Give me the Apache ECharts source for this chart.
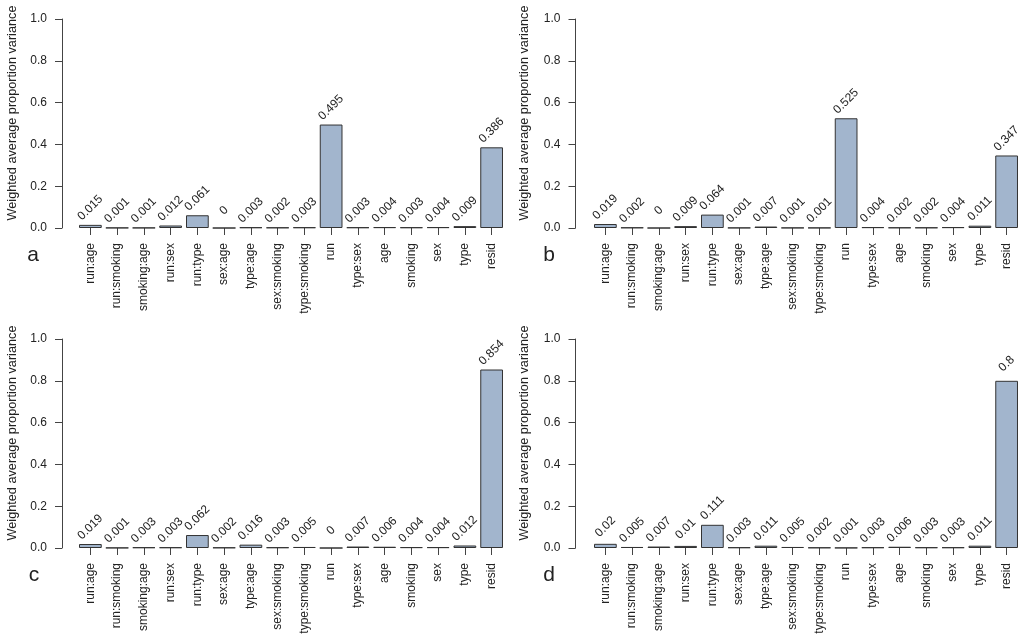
<!DOCTYPE html>
<html>
<head>
<meta charset="utf-8">
<script src="https://cdn.jsdelivr.net/npm/echarts@6/dist/echarts.min.js"></script>
<style>
html,body{margin:0;padding:0;background:#fff;}
#chart{width:1024px;height:640px;}
</style>
</head>
<body>
<div id="chart"></div>
<script>
var categories = ["run:age","run:smoking","smoking:age","run:sex","run:type","sex:age","type:age","sex:smoking","type:smoking","run","type:sex","age","smoking","sex","type","resid"];
var valuesA = [0.015,0.001,0.001,0.012,0.061,0,0.003,0.002,0.003,0.495,0.003,0.004,0.003,0.004,0.009,0.386];
var valuesB = [0.019,0.002,0,0.009,0.064,0.001,0.007,0.001,0.001,0.525,0.004,0.002,0.002,0.004,0.011,0.347];
var valuesC = [0.019,0.001,0.003,0.003,0.062,0.002,0.016,0.003,0.005,0,0.007,0.006,0.004,0.004,0.012,0.854];
var valuesD = [0.02,0.005,0.007,0.01,0.111,0.003,0.011,0.005,0.002,0.001,0.003,0.006,0.003,0.003,0.011,0.8];
var panelLetters = ["a","b","c","d"];
var yTitle = "Weighted average proportion variance";

var FONT = '"Liberation Sans", Arial, sans-serif';
var TXT = '#222';
var panels = [
  {vals: valuesA, left: 77, top: 19, off: 15, tx: 12.5, lx: 33},
  {vals: valuesB, left: 592, top: 19, off: 16.5, tx: 524.5, lx: 549},
  {vals: valuesC, left: 77, top: 339, off: 15, tx: 12.5, lx: 34},
  {vals: valuesD, left: 592, top: 339, off: 16.5, tx: 524.5, lx: 549}
];

var grids = [], xAxes = [], yAxes = [], series = [], graphics = [];
panels.forEach(function(p, i){
  grids.push({left: p.left, top: p.top, width: 428, height: 209});
  xAxes.push({
    type: 'category', gridIndex: i, data: categories,
    axisLine: {show: false},
    axisTick: {show: true, alignWithLabel: true, length: 7, lineStyle: {color: '#444'}},
    axisLabel: {rotate: 90, interval: 0, margin: 15, fontSize: 12, color: TXT, fontFamily: FONT},
    splitLine: {show: false}
  });
  yAxes.push({
    type: 'value', gridIndex: i, min: 0, max: 1, interval: 0.2, offset: p.off,
    axisLine: {show: true, lineStyle: {color: '#444'}},
    axisTick: {show: true, inside: false, length: 7, lineStyle: {color: '#444'}},
    axisLabel: {margin: 15, fontSize: 12, color: TXT, fontFamily: FONT,
      formatter: function(v){ return v.toFixed(1); }},
    splitLine: {show: false}
  });
  series.push({
    type: 'bar', xAxisIndex: i, yAxisIndex: i, data: p.vals,
    barWidth: '85%',
    itemStyle: {color: '#A2B5CD', borderColor: '#333', borderWidth: 1},
    label: {show: true, position: 'top', distance: 17, rotate: 45,
      align: 'center', verticalAlign: 'middle',
      fontSize: 12, color: TXT, fontFamily: FONT,
      formatter: function(d){ return String(d.value); }},
    silent: true, animation: false
  });
  graphics.push({
    type: 'text', x: p.tx, y: p.top + 94, rotation: Math.PI/2,
    style: {text: yTitle, fontSize: 12.7, fill: TXT, fontFamily: FONT, align: 'center', verticalAlign: 'middle'}
  });
  graphics.push({
    type: 'text', x: p.lx, y: p.top + 236,
    style: {text: panelLetters[i], fontSize: 21, fill: TXT, fontFamily: FONT, align: 'center', verticalAlign: 'middle'}
  });
});

var chart = echarts.init(document.getElementById('chart'));
chart.setOption({
  animation: false,
  grid: grids, xAxis: xAxes, yAxis: yAxes, series: series,
  graphic: graphics
});
</script>
</body>
</html>
